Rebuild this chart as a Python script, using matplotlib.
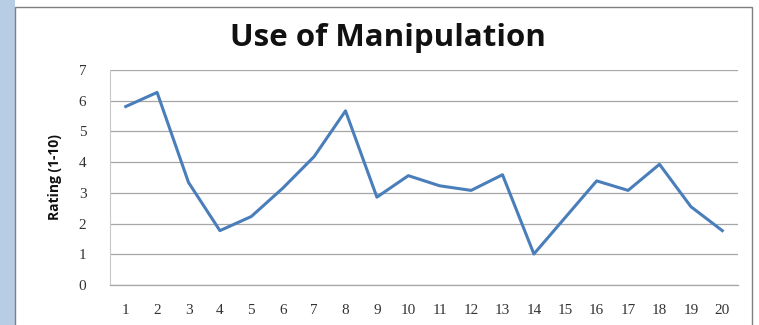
import matplotlib
matplotlib.use("Agg")
import matplotlib.pyplot as plt
from matplotlib.patches import Rectangle

categories = list(range(1, 21))
ratings = [5.81, 6.27, 3.34, 1.77, 2.23, 3.15, 4.18, 5.67, 2.86, 3.56,
           3.23, 3.08, 3.59, 1.01, 2.20, 3.39, 3.08, 3.93, 2.55, 1.77]
yticks = list(range(0, 8))
title = "Use of Manipulation"
ylabel = "Rating (1-10)"

W, H = 759, 325
fig = plt.figure(figsize=(W / 100, H / 100), dpi=100)
fig.patch.set_facecolor("white")

# left decorative blue strip and chart border
fig.add_artist(Rectangle((0, 0), 15 / W, 1, transform=fig.transFigure,
                         facecolor="#b7cde3", edgecolor="none", zorder=-2))
fig.add_artist(Rectangle((15 / W, -0.05), (752 - 15) / W, 1 - 7 / H + 0.05,
                         transform=fig.transFigure, facecolor="white",
                         edgecolor="#7f7f7f", linewidth=1.0, zorder=-1))

ax = fig.add_axes([110 / W, 1 - 285 / H, (738 - 110) / W, (285 - 70) / H])
ax.set_zorder(1)
ax.set_facecolor("none")
ax.plot(categories, ratings, color="#4a7ebb", linewidth=2.2, zorder=3)
ax.set_xlim(0.5, 20.5)
ax.set_ylim(0, 7)
ax.set_yticks(yticks)
ax.set_xticks(categories)
ax.grid(axis="y", color="#a6a6a6", linewidth=0.9)
ax.set_axisbelow(True)
for s in ["top", "right"]:
    ax.spines[s].set_visible(False)
ax.spines["left"].set_color("#c8c8c8")
ax.spines["bottom"].set_color("#a6a6a6")
ax.spines["bottom"].set_linewidth(0.9)
ax.tick_params(length=0)
ax.tick_params(axis="y", pad=17)
ax.tick_params(axis="x", pad=14)
for lbl in ax.get_xticklabels() + ax.get_yticklabels():
    lbl.set_fontfamily("Liberation Serif")
    lbl.set_fontsize(11)
    lbl.set_color("#333333")

ax.set_ylabel(ylabel, fontfamily="Open Sans", fontweight="bold", fontsize=10,
              color="#111111")
ax.yaxis.set_label_coords(-0.076, 0.5)

fig.text(388 / W, 1 - 38 / H, title, ha="center", va="center",
         fontfamily="Open Sans", fontweight="bold", fontsize=22.5, color="#111111")

fig.savefig("out.png", dpi=100)
